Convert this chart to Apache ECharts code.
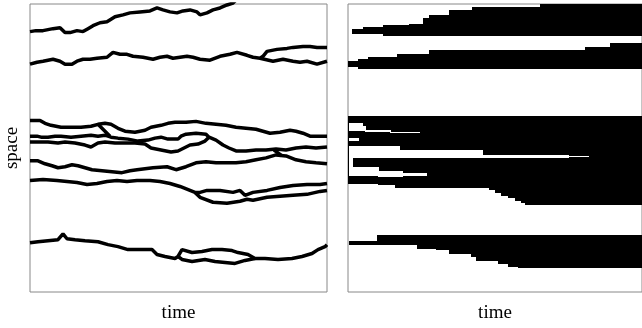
<!DOCTYPE html>
<html>
<head>
<meta charset="utf-8">
<script src="https://cdn.jsdelivr.net/npm/echarts@6/dist/echarts.min.js"></script>
<style>
  html, body { margin: 0; padding: 0; background: #fff; }
  #main { width: 642px; height: 328px; }
</style>
</head>
<body>
<div id="main"></div>
<script>
// time runs 0..297, space runs 0..292 measured from the top

// left panel: walks as [time, space]
var walkA = [[0,28],[6,27],[13,27],[23,25],[30,24],[35,29],[40,29],[47,27],[53,28],[58,25],[63,22],[70,19],[77,18],[85,13],[93,11],[100,9],[110,8],[120,7],[127,4],[133,6],[140,8],[147,9],[153,7],[160,6],[167,8],[170,11],[177,9],[183,6],[190,4],[197,1],[203,-1],[206,-4]];
var walkB = [[0,61],[7,59],[13,58],[23,56],[30,58],[35,61],[42,61],[47,58],[53,56],[60,56],[67,55],[77,54],[83,49],[90,51],[97,51],[103,53],[113,54],[123,56],[130,54],[137,53],[143,55],[150,54],[157,53],[163,54],[170,56],[180,57],[190,53],[200,51],[207,49],[217,52],[223,54],[230,55],[233,53],[237,48],[247,46],[257,45],[263,44],[273,43],[280,43],[287,44],[297,44]];
var walkB2 = [[230,55],[243,58],[253,56],[263,58],[270,59],[277,58],[287,61],[297,58]];
var walkC = [[0,118],[10,118],[15,121],[21,123],[31,125],[41,125],[51,125],[61,124],[68,122],[75,121],[81,122],[88,126],[95,129],[105,130],[115,128],[121,125],[131,123],[138,121],[145,120],[156,120],[166,119],[176,121],[186,122],[196,123],[206,125],[216,126],[226,127],[233,129],[240,131],[250,130],[260,128],[266,129],[273,131],[280,134],[288,134],[297,134]];
var walkCD = [[68,122],[72,126],[76,130],[80,134]];
var walkD = [[0,134],[7,134],[11,135],[18,135],[25,134],[31,134],[41,135],[51,134],[61,133],[68,134],[75,133],[81,135],[88,136],[98,137],[108,139],[118,138],[125,136],[131,135],[138,137],[148,137],[151,134],[156,132],[166,131],[176,132],[179,135],[186,138],[193,143],[199,146],[206,149],[216,149],[226,148],[236,148],[246,147],[256,148],[266,146],[276,145],[286,146],[297,145]];
var walkE = [[0,140],[8,140],[18,140],[28,141],[35,140],[45,141],[55,143],[61,145],[68,141],[75,140],[85,141],[95,141],[105,141],[115,142],[121,146],[131,148],[141,150],[148,149],[154,146],[160,143],[168,142],[175,139],[179,135]];
var walkF = [[0,159],[8,159],[15,162],[22,164],[28,166],[35,165],[42,163],[48,164],[55,166],[62,168],[72,169],[82,170],[92,171],[100,169],[107,168],[115,167],[123,166],[137,165],[146,168],[156,165],[166,161],[176,160],[186,161],[196,161],[206,161],[216,160],[226,158],[236,156],[246,153],[256,154],[266,158],[276,160],[286,161],[297,162]];
var walkDF = [[244,148],[248,151],[252,154]];
var walkG = [[0,179],[13,178],[27,179],[37,180],[47,181],[57,183],[67,182],[77,180],[87,179],[97,180],[107,179],[120,179],[130,180],[140,182],[150,185],[160,189],[165,191],[170,191],[177,189],[190,189],[203,191],[210,189],[215,194],[223,191],[237,189],[250,186],[263,184],[277,183],[290,183],[297,182]];
var walkG2 = [[165,191],[170,196],[183,201],[197,202],[210,200],[217,198],[223,199],[237,196],[250,195],[263,194],[277,193],[290,190],[297,189]];
var walkH = [[0,242],[8,241],[18,240],[28,239],[33,233],[37,238],[45,239],[55,240],[68,241],[78,244],[88,246],[98,249],[108,249],[122,249],[127,254],[135,256],[145,258],[148,256],[152,249],[162,252],[172,251],[182,249],[192,249],[202,250],[208,252],[218,254],[225,258],[235,258],[248,259],[262,258],[272,256],[282,253],[288,249],[295,246],[297,244]];
var walkH2 = [[148,256],[152,259],[162,261],[175,259],[185,261],[195,262],[205,263],[215,260],[225,258]];

var walks = [walkA, walkB, walkB2, walkC, walkCD, walkD, walkE, walkF, walkDF, walkG, walkG2, walkH, walkH2];

// right panel: [time, upper edge, lower edge], held until the next time
var band1 = [[4,25,30],[15,23,30],[35,21,32],[62,20,32],[76,14,32],[82,11,32],[102,6,32],[125,3,32],[194,0,32],[297,0,32]];
var band2 = [[0,58,64],[10,56,66],[20,54,66],[50,51,66],[82,47,66],[239,44,66],[265,40,66],[297,40,66]];
var band3 = [[0,114,182],[30,114,184],[47,114,187],[142,114,189],[149,114,192],[155,114,195],[162,114,197],[169,114,200],[175,114,202],[179,114,204],[297,114,204]];
var band4 = [[1,240,244],[29,234,244],[70,234,248],[89,234,249.5],[102,234,253],[124,234,257],[129,234,261],[152,234,264],[162,234,267],[172,234,268],[297,234,268]];

// white gaps inside the big band
var gap1 = [[1,121,129],[14,124,129],[17,128,129.5],[42,129.5,130.5],[72,130,130.5]];
var gap2 = [[1,136,139],[10,136,139]];
var gap3 = [[1,144,156],[52,148,156],[135,153,156],[222,154,155.5],[242,154.5,155.5]];
var gap4 = [[1,156,174],[4,165,174],[30,169,175],[55,171,174.5],[79,172,173]];

var blackBands = [band1, band2, band3, band4];
var whiteGaps = [gap1, gap2, gap3, gap4];

var chart = echarts.init(document.getElementById('main'));

// turn band rows into [t0, t1, top, bottom] pieces
function toPieces(rows) {
  var out = [];
  for (var i = 0; i < rows.length - 1; i++) {
    out.push([rows[i][0], rows[i + 1][0], rows[i][1], rows[i][2]]);
  }
  return out;
}

function bandSeries(rows, color) {
  return {
    type: 'custom',
    xAxisIndex: 1,
    yAxisIndex: 1,
    silent: true,
    clip: true,
    encode: { x: [0, 1], y: [2, 3] },
    data: toPieces(rows),
    renderItem: function (params, api) {
      var p0 = api.coord([api.value(0), api.value(2)]);
      var p1 = api.coord([api.value(1), api.value(3)]);
      // snap to whole pixels and overlap a little so the pieces join without seams
      var x0 = Math.round(p0[0]);
      var x1 = Math.round(p1[0]) + 1;
      var y0 = Math.round(p0[1]);
      var y1 = Math.max(Math.round(p1[1]), y0 + 1);
      var rect = echarts.graphic.clipRectByRect({
        x: x0,
        y: y0,
        width: x1 - x0,
        height: y1 - y0
      }, {
        x: params.coordSys.x,
        y: params.coordSys.y,
        width: params.coordSys.width,
        height: params.coordSys.height
      });
      if (!rect) {
        return;
      }
      return { type: 'rect', shape: rect, style: { fill: color } };
    }
  };
}

function getChartOption() {
  var font = { fontFamily: 'Liberation Serif', fontSize: 19, color: '#000' };
  var series = [];

  walks.forEach(function (w) {
    series.push({
      type: 'line',
      xAxisIndex: 0,
      yAxisIndex: 0,
      symbol: 'none',
      silent: true,
      lineStyle: { color: '#000', width: 3.5 },
      data: w
    });
  });

  blackBands.forEach(function (b) {
    series.push(bandSeries(b, '#000'));
  });
  whiteGaps.forEach(function (g) {
    series.push(bandSeries(g, '#fff'));
  });

  var hidden = {
    axisLine: { show: false },
    axisTick: { show: false },
    axisLabel: { show: false },
    splitLine: { show: false }
  };

  return {
    animation: false,
    grid: [
      { left: 30, top: 4, width: 297, height: 292, show: true, borderColor: '#888', borderWidth: 1 },
      { left: 348, top: 4, width: 297, height: 292, show: true, borderColor: '#888', borderWidth: 1 }
    ],
    xAxis: [
      Object.assign({ gridIndex: 0, type: 'value', min: 0, max: 297, name: 'time', nameLocation: 'middle', nameGap: 12, nameTextStyle: font }, hidden),
      Object.assign({ gridIndex: 1, type: 'value', min: 0, max: 297, name: 'time', nameLocation: 'middle', nameGap: 12, nameTextStyle: font }, hidden)
    ],
    yAxis: [
      Object.assign({ gridIndex: 0, type: 'value', inverse: true, min: 0, max: 292, name: 'space', nameLocation: 'middle', nameGap: 8, nameRotate: 90, nameTextStyle: font }, hidden),
      Object.assign({ gridIndex: 1, type: 'value', inverse: true, min: 0, max: 292 }, hidden)
    ],
    series: series
  };
}

chart.setOption(getChartOption());
</script>
</body>
</html>
